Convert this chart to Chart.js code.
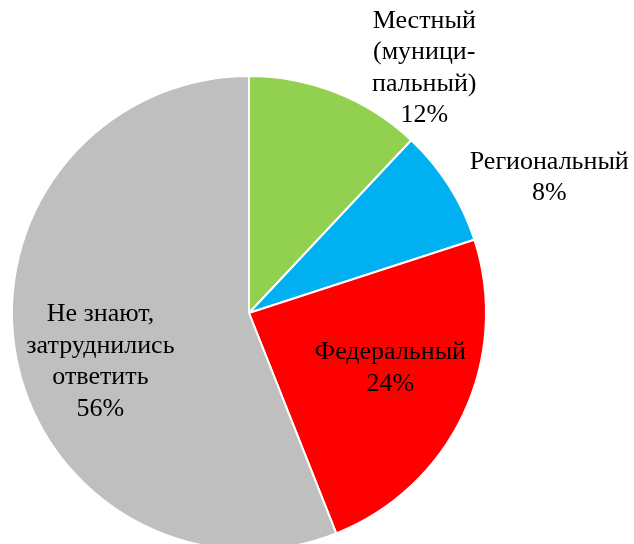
<!DOCTYPE html>
<html>
<head>
<meta charset="utf-8">
<script src="https://cdn.jsdelivr.net/npm/chart.js@4"></script>
<style>
	html, body { margin: 0; padding: 0; background: #fff; overflow: hidden; }
	#wrap { width: 634px; height: 560px; }
</style>
</head>
<body>
<div id="wrap"><canvas id="pie" width="634" height="560"></canvas></div>
<script>
// data
const labels = [
	['Местный', '(муници-', 'пальный)'],
	['Региональный'],
	['Федеральный'],
	['Не знают,', 'затруднились', 'ответить'],
];
const shares = [12, 8, 24, 56];
const colors = ['#92D050', '#00B0F0', '#FF0000', '#BFBFBF'];

// where each label sits: angle (deg from top, clockwise) and distance in radii
const labelPlace = [
	{ angle: 35.6, dist: 1.27 },
	{ angle: 65.7, dist: 1.39 },
	{ angle: 111.3, dist: 0.64 },
	{ angle: 251.8, dist: 0.66 },
];

const pieLabels = {
	id: 'pieLabels',
	afterDraw(chart) {
		const ctx = chart.ctx;
		const arcs = chart.getDatasetMeta(0).data;
		ctx.save();
		ctx.font = '26px "Liberation Serif", "Times New Roman", serif';
		ctx.fillStyle = '#000';
		ctx.textAlign = 'center';
		ctx.textBaseline = 'middle';
		const lineH = 31.5;
		arcs.forEach((arc, i) => {
			const p = labelPlace[i];
			const a = (p.angle * Math.PI) / 180;
			const x = arc.x + arc.outerRadius * p.dist * Math.sin(a);
			const y = arc.y - arc.outerRadius * p.dist * Math.cos(a);
			const lines = [...labels[i], shares[i] + '%'];
			const top = y - ((lines.length - 1) * lineH) / 2;
			lines.forEach((t, k) => ctx.fillText(t, x, top + k * lineH));
		});
		ctx.restore();
	},
};

new Chart(document.querySelector('#pie'), {
	type: 'pie',
	data: {
		labels: labels.map((l) => l.join(' ')),
		datasets: [
			{
				data: shares,
				backgroundColor: colors,
				borderColor: '#fff',
				borderWidth: 2,
			},
		],
	},
	options: {
		responsive: false,
		animation: false,
		layout: { padding: { top: 75, bottom: 9, left: 11, right: 147 } },
		plugins: {
			legend: { display: false },
			tooltip: { enabled: false },
		},
	},
	plugins: [pieLabels],
});
</script>
</body>
</html>
